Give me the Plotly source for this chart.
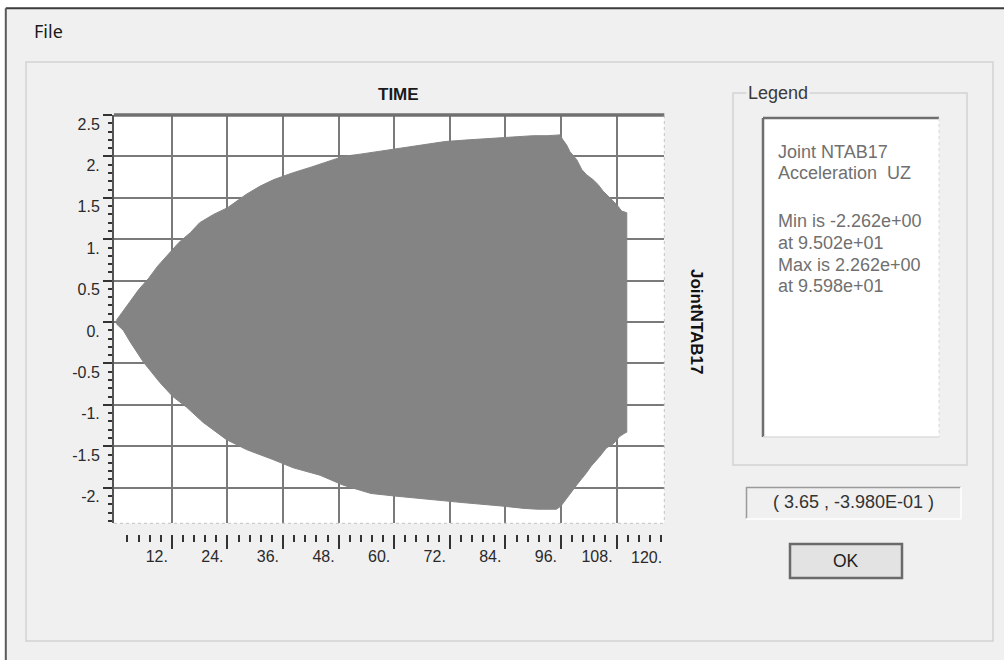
import plotly.graph_objects as go

# ---------------- data ----------------
# upper envelope of the acceleration trace (time, value)
t_upper = [0, 1.5, 3, 4.8, 6, 7, 9, 11.5, 13.5, 16, 18, 21, 24, 28, 31, 34, 38, 42, 46, 49,
           53, 58, 62, 66, 71, 76, 81, 86, 90, 93, 95.8, 96.4, 97.2, 97.9, 99.4, 100.5, 101.5,
           102.9, 104, 105.1, 106.5, 108, 109.1, 110.2]
v_upper = [0.02, 0.13, 0.25, 0.39, 0.47, 0.53, 0.68, 0.84, 0.96, 1.08, 1.2, 1.3, 1.38, 1.54, 1.64,
           1.72, 1.8, 1.87, 1.94, 2.0, 2.03, 2.07, 2.1, 2.14, 2.18, 2.2, 2.22, 2.24, 2.25, 2.25,
           2.26, 2.2, 2.14, 2.06, 1.96, 1.84, 1.78, 1.72, 1.66, 1.58, 1.5, 1.42, 1.34, 1.32]
# lower envelope
t_lower = [0, 1.5, 3, 5.8, 9.4, 12.2, 15.2, 18.7, 23.8, 28.1, 33.8, 38.2, 44, 49, 55, 60, 66.5,
           74.8, 83, 88, 91, 95, 96, 97, 99.5, 101.5, 102.5, 104.4, 105.8, 107.3, 108.7, 109.8, 110.2]
v_lower = [-0.02, -0.1, -0.24, -0.48, -0.73, -0.9, -1.03, -1.21, -1.42, -1.54, -1.66, -1.76,
           -1.85, -1.97, -2.07, -2.1, -2.14, -2.18, -2.22, -2.25, -2.26, -2.26, -2.22, -2.14,
           -1.96, -1.82, -1.74, -1.62, -1.52, -1.47, -1.38, -1.34, -1.33]

x_tick_vals = [12, 24, 36, 48, 60, 72, 84, 96, 108]
x_tick_text = ["12.", "24.", "36.", "48.", "60.", "72.", "84.", "96.", "108."]
x_last_label = "120."
y_tick_vals = [-2, -1.5, -1, -0.5, 0, 0.5, 1, 1.5, 2, 2.5]
y_tick_text = ["-2.", "-1.5", "-1.", "-0.5", "0.", "0.5", "1.", "1.5", "2.", "2.5"]

legend_lines = ["Joint NTAB17", "Acceleration  UZ", "", "Min is -2.262e+00", "at 9.502e+01",
                "Max is 2.262e+00", "at 9.598e+01"]
coord_text = "( 3.65 , -3.980E-01 )"

# minor x ticks: every 2.4 s, starting after the origin
x_minor_vals = [round(2.4 * k, 2) for k in range(1, 50) if k % 5]

# ---------------- geometry helpers ----------------
W, H = 1004, 660


def px(x):
    return x / W


def py(y):
    return 1 - y / H


PLOT_L, PLOT_R, PLOT_T, PLOT_B = 114, 664.3, 115, 523.3
FONT = "Liberation Sans, Arial, sans-serif"

poly_x = t_upper + t_lower[::-1]
poly_y = v_upper + v_lower[::-1]

fig = go.Figure()
fig.add_trace(go.Scatter(
    x=poly_x, y=poly_y, mode="lines", fill="toself",
    fillcolor="#848484", line=dict(color="#848484", width=1),
    hoverinfo="skip", showlegend=False,
))

shapes = []


def rect(x0, y0, x1, y1, **kw):
    shapes.append(dict(type="rect", xref="paper", yref="paper",
                       x0=px(x0), x1=px(x1), y0=py(y1), y1=py(y0), **kw))


def line(x0, y0, x1, y1, color, width, dash="solid"):
    shapes.append(dict(type="line", xref="paper", yref="paper",
                       x0=px(x0), x1=px(x1), y0=py(y0), y1=py(y1),
                       line=dict(color=color, width=width, dash=dash)))


# outside window area and window border
rect(0, 0, W, 7.5, fillcolor="white", line=dict(width=0), layer="below")
rect(0, 0, 5, H, fillcolor="white", line=dict(width=0), layer="below")
line(5.8, 8.3, W, 8.3, "#3c3c3c", 2)
line(5.8, 8.3, 5.8, H, "#5a5a5a", 2)
# inner panel group box
rect(26, 62, 993, 641, line=dict(color="#d2d2d2", width=1.5), fillcolor="rgba(0,0,0,0)")
# legend group box
rect(733, 93, 967, 465, line=dict(color="#d2d2d2", width=1.5), fillcolor="rgba(0,0,0,0)")
# legend white box (sunken)
rect(763, 118, 939, 437, fillcolor="white", line=dict(width=0))
line(763, 118, 939, 118, "#6e6e6e", 2.5)
line(763, 118, 763, 437, "#6e6e6e", 2.5)
line(939, 118, 939, 437, "#d8d8d8", 1, "dot")
line(763, 437, 939, 437, "#dcdcdc", 1.5)
# coordinates box
rect(746, 487, 961, 519, fillcolor="#f0f0f0", line=dict(width=0))
line(746, 487.5, 961, 487.5, "#9a9a9a", 1.5)
line(746.5, 487, 746.5, 519, "#9a9a9a", 1.5)
line(746, 519, 961, 519, "#ffffff", 1.5)
line(961, 487, 961, 519, "#ffffff", 1.5)
# OK button
rect(790, 544, 902, 578, fillcolor="#e3e3e3", line=dict(color="#6a6a6a", width=2.5))
# plot frame
line(PLOT_L, PLOT_T, PLOT_R, PLOT_T, "#707070", 3.5)
line(PLOT_R, PLOT_T, PLOT_R, PLOT_B, "#c4c4c4", 1, "dot")
line(PLOT_L, PLOT_B, PLOT_R, PLOT_B, "#c4c4c4", 1, "dot")

annotations = []


def text(x, y, s, size, color, xanchor="left", bold=False, family=FONT, angle=0, bg=None):
    a = dict(x=px(x), y=py(y), xref="paper", yref="paper", text=("<b>%s</b>" % s) if bold else s,
             showarrow=False, xanchor=xanchor, yanchor="middle", textangle=angle,
             font=dict(family=family, size=size, color=color))
    if bg:
        a["bgcolor"] = bg
    annotations.append(a)


text(32, 31, "File", 18, "#1a1a1a", family="Noto Sans, Open Sans, sans-serif")
text(398, 95, "TIME", 17, "#1a1a1a", xanchor="center", bold=True)
text(697, 321, "JointNTAB17", 17, "#111111", xanchor="center", bold=True, angle=90)
text(746, 93, "Legend", 18, "#3a3a3a", bg="#f0f0f0")
y0 = 151.7
for i, s in enumerate(legend_lines):
    if s:
        yy = y0 + i * 21.7 + (4.5 if i >= 3 else 0)
        text(776, yy, s, 18, "#707070")
text(853.5, 502, coord_text, 18, "#333333", xanchor="center")
text(846, 561, "OK", 17.5, "#1e1e1e", xanchor="center")
# last x label (its tick falls just outside the drawn axis range)
text(664, 557.5, x_last_label, 16, "#2a2a2a", xanchor="right")

dom_x = [px(PLOT_L), px(PLOT_R)]
fig.update_layout(
    width=W, height=H, margin=dict(l=0, r=0, t=0, b=0, pad=0, autoexpand=False),
    paper_bgcolor="#f0f0f0", plot_bgcolor="white",
    showlegend=False,
    shapes=shapes, annotations=annotations,
    xaxis=dict(domain=dom_x, range=[-0.5, 118.3], anchor="free", position=py(533.5),
               tickmode="array", tickvals=x_tick_vals, ticktext=x_tick_text,
               showgrid=True, gridcolor="#7a7a7a", gridwidth=1.5, zeroline=False,
               ticks="outside", ticklen=14, tickwidth=2, tickcolor="#333333",
               showline=False, ticklabelposition="outside left", ticklabelshift=-3,
               ticklabelstandoff=8,
               tickfont=dict(family=FONT, size=16, color="#2a2a2a"),
               minor=dict(tickmode="array", tickvals=x_minor_vals, ticklen=7, tickwidth=1.5,
                          tickcolor="#333333", showgrid=False),
               fixedrange=True, automargin=False),
    yaxis=dict(domain=[py(PLOT_B), py(PLOT_T)], range=[-2.43, 2.5], tickmode="array",
               tickvals=y_tick_vals, ticktext=y_tick_text, showgrid=True,
               gridcolor="#7a7a7a", gridwidth=1.5, zeroline=False, ticks="outside",
               ticklen=9, tickwidth=2, tickcolor="#333333", showline=True,
               linecolor="#555555", linewidth=2, ticklabelshift=9,
               tickfont=dict(family=FONT, size=16, color="#2a2a2a"),
               minor=dict(tickmode="linear", tick0=0, dtick=0.1, ticklen=4, tickwidth=1.5,
                          tickcolor="#333333", showgrid=False),
               fixedrange=True, automargin=False),
)

fig.write_html("out.html", config={"displayModeBar": False},
               post_script="document.body.style.margin='0px';")
